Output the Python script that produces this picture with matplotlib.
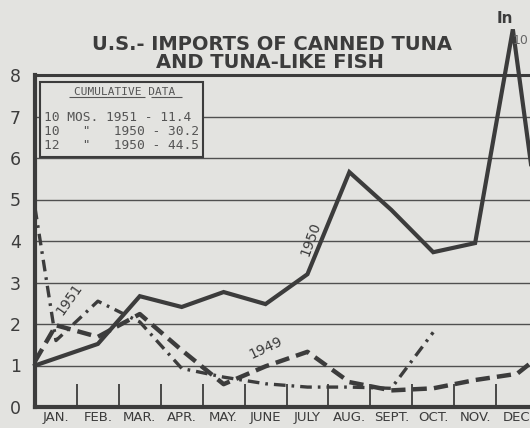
import matplotlib.pyplot as plt
from matplotlib.patches import Rectangle
import numpy as np

# month labels (x axis), one month = one unit, centres at i + 0.5
months = ["JAN.", "FEB.", "MAR.", "APR.", "MAY.", "JUNE", "JULY",
          "AUG.", "SEPT.", "OCT.", "NOV.", "DEC"]

# values in millions of pounds
x_1950 = [0, 1.5, 2.5, 3.5, 4.5, 5.5, 6.5, 7.5, 8.5, 9.5, 10.5, 11.4, 12.0]
y_1950 = [1.0, 1.52, 2.67, 2.41, 2.77, 2.48, 3.2, 5.66, 4.75, 3.73, 3.95, 9.1, 4.6]

x_1949 = [0, 0.5, 1.5, 2.5, 3.5, 4.5, 5.5, 6.5, 7.5, 8.5, 9.5, 10.5, 11.5, 12.0]
y_1949 = [1.1, 1.97, 1.69, 2.24, 1.37, 0.55, 0.98, 1.33, 0.6, 0.4, 0.45, 0.65, 0.8, 1.2]

x_1951 = [0, 0.5, 1.5, 2.5, 3.5, 4.5, 5.5, 6.5, 7.5, 8.5, 9.5]
y_1951 = [4.8, 1.6, 2.55, 2.05, 0.93, 0.72, 0.56, 0.48, 0.48, 0.45, 1.8]

cumulative = ["10 MOS. 1951 - 11.4",
              "10   \"   1950 - 30.2",
              "12   \"   1950 - 44.5"]

paper = "#e3e3e0"
ink = "#3c3c3c"

fig = plt.figure(figsize=(5.3, 4.28), dpi=100, facecolor=paper)
ax = fig.add_axes([35 / 530, 21 / 428, 503 / 530, 332 / 428])
ax.set_facecolor(paper)
ax.set_xlim(0, 12)
ax.set_ylim(0, 8)

for s in ["left", "bottom"]:
    ax.spines[s].set_linewidth(3)
    ax.spines[s].set_color(ink)
ax.spines["top"].set_linewidth(2.2)
ax.spines["top"].set_color(ink)
ax.spines["right"].set_visible(False)

# grid and month ticks
ax.hlines(range(1, 8), 0, 12, color="#505050", lw=1.0, zorder=1)
ax.vlines(range(1, 12), 0, 0.55, color=ink, lw=1.3, zorder=1)

ax.set_yticks(range(0, 9))
ax.set_yticklabels([str(i) for i in range(9)], fontsize=12.5, color=ink,
                   family="DejaVu Sans")
ax.set_xticks(np.arange(12) + 0.5)
ax.set_xticklabels(months, fontsize=9.5, color=ink, family="DejaVu Sans")
ax.tick_params(axis="y", length=0, pad=10)
ax.tick_params(axis="x", length=0, pad=3)

# the three years
ax.plot(x_1950, y_1950, color=ink, lw=3, solid_joinstyle="miter",
        zorder=4, clip_on=False)
ax.plot(x_1949, y_1949, color=ink, lw=3.2, dashes=(3.2, 1.6),
        zorder=4, clip_on=False)
ax.plot(x_1951, y_1951, color=ink, lw=2.4, dashes=(3.5, 1.8, 0.8, 1.8),
        zorder=4)

ax.text(6.57, 4.05, "1950", rotation=70, fontsize=10, color=ink,
        ha="center", va="center")
ax.text(0.82, 2.6, "1951", rotation=55, fontsize=10, color=ink,
        ha="center", va="center")
ax.text(5.5, 1.42, "1949", rotation=25, fontsize=10, color=ink,
        ha="center", va="center")

# cumulative data box
ax.add_patch(Rectangle((0.12, 6.02), 3.88, 1.81, facecolor=paper,
                       edgecolor=ink, lw=1.5, zorder=5))
ax.text(2.15, 7.6, "CUMULATIVE DATA", fontsize=8, color="#555555",
        family="DejaVu Sans Mono", ha="center", va="center", zorder=6)
ax.hlines([7.46, 7.46], [0.8, 2.76], [2.63, 3.5], color="#555555", lw=0.8,
          zorder=6)
for i, line in enumerate(cumulative):
    ax.text(0.22, 6.98 - i * 0.34, line, fontsize=9.3, color="#555555",
            family="DejaVu Sans Mono", ha="left", va="center", zorder=6)

# off-scale note at the December peak
fig.text(505 / 530, 1 - 26 / 428, "In", fontsize=11, fontweight="bold",
         color=ink, ha="center", va="bottom")
fig.text(513 / 530, 1 - 41 / 428, "10", fontsize=9, color="#666666",
         ha="left", va="center")

fig.text(272 / 530, 1 - 44 / 428, "U.S.- IMPORTS OF CANNED TUNA",
         fontsize=14, fontweight="bold", color=ink, ha="center",
         va="center", family="DejaVu Sans")
fig.text(270 / 530, 1 - 62 / 428, "AND TUNA-LIKE FISH",
         fontsize=14, fontweight="bold", color=ink, ha="center",
         va="center", family="DejaVu Sans")

fig.savefig("out.png", dpi=100, facecolor=paper)
